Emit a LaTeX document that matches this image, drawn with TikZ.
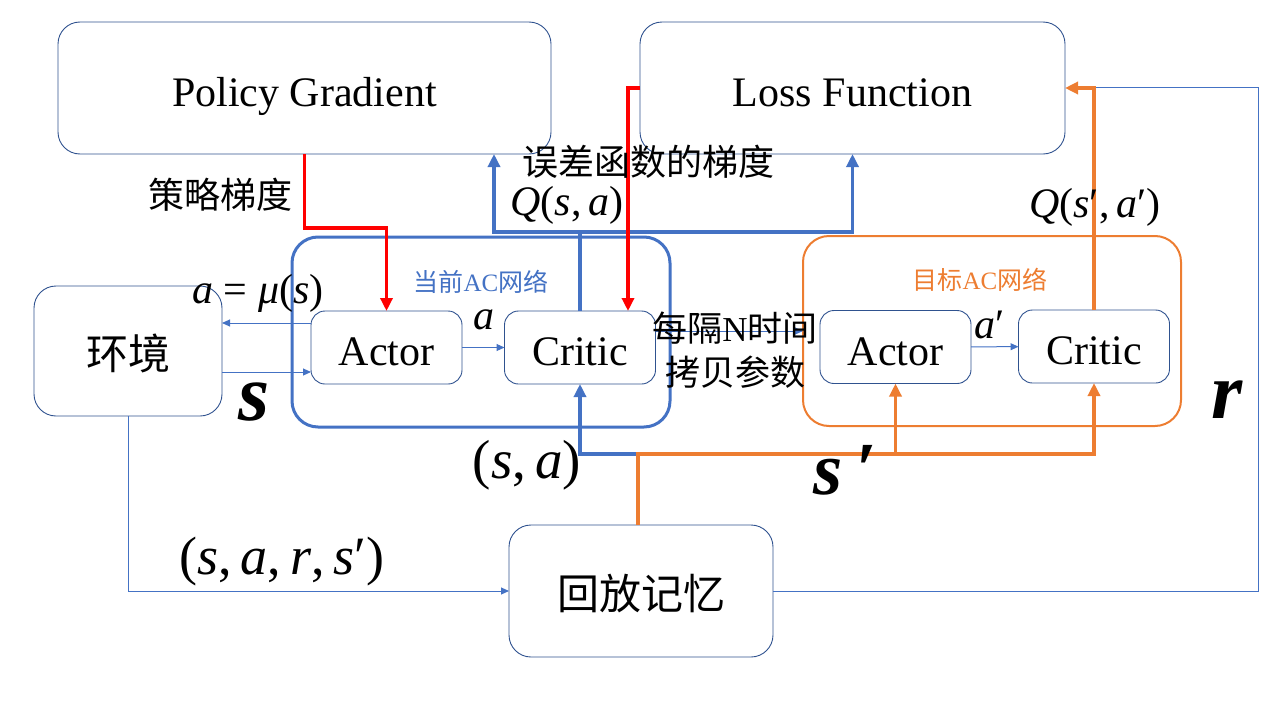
\documentclass[tikz,border=0pt]{standalone}
\usepackage{fontspec}
\setmainfont{Liberation Serif}
\newfontfamily\cjk{Noto Sans CJK SC}
\usetikzlibrary{positioning,calc,arrows.meta}
\definecolor{boxline}{HTML}{2F528F}
\definecolor{acblue}{HTML}{4472C4}
\definecolor{acorange}{HTML}{ED7D31}

\begin{document}
\begin{tikzpicture}
      [x=1pt,y=-1pt,
      every node/.style={inner sep=0pt,outer sep=0pt},
      box/.style={draw=boxline,line width=0.9pt,rounded corners=22pt,text height=36pt,text depth=0pt,font=\fontsize{42}{42}\selectfont},
      subbox/.style={box,rounded corners=14pt,minimum width=151pt,minimum height=73pt},
      netbox/.style={rounded corners=26pt,minimum width=378pt,minimum height=190pt},
      flow/.style={draw=acblue,line width=1pt,-{Triangle[length=8pt,width=7pt]}},
      feed/.style={line width=3.5pt,-{Triangle[length=13pt,width=12pt]}},
      lbl/.style={font=\fontsize{36}{36}\selectfont},
      mathlbl/.style={font=\fontsize{42}{42}\selectfont},
      big/.style={font=\fontsize{80}{80}\selectfont\bfseries\itshape}]
     \useasboundingbox (0,0) rectangle (1280,720);
     % boxes
     \node[box,minimum width=493pt,minimum height=132pt] (pg) at (304.5,88) {Policy Gradient};
     \node[box,minimum width=425pt,minimum height=132pt] (lf) at (852.5,88) {Loss Function};
     \node[box,minimum width=188pt,minimum height=130pt] (env) at (128,351) {\cjk 环境};
     \node[box,minimum width=264pt,minimum height=132pt] (mem) at (641,591) {\cjk 回放记忆};
     \node[netbox,draw=acblue,line width=3pt] (cur) at (481,332) {};
     \node[netbox,draw=acorange,line width=2pt] (tgt) at (992,331) {};
     \node[subbox] (act) at (386.5,347.5) {Actor};
     \node[subbox] (cri) at (580,347.5) {Critic};
     \node[subbox] (tact) at (895.5,347) {Actor};
     \node[subbox] (tcri) at (1094,346.5) {Critic};
     \node[font=\fontsize{25}{25}\selectfont,text=acblue] (lcur) at (481,282) {{\cjk 当前}AC{\cjk 网络}};
     \node[font=\fontsize{25}{25}\selectfont,text=acorange] (ltgt) at (980,280) {{\cjk 目标}AC{\cjk 网络}};
     % thin connectors
     \coordinate (a1) at ([yshift=24.5pt]act.west);
     \coordinate (s1) at ([yshift=-24.5pt]act.west);
     \coordinate (c1) at ([yshift=16.5pt]cri.east);
     \coordinate (rc) at (1258,87);
     \draw[flow] (a1) -- (a1 -| env.east);
     \draw[flow] (s1 -| env.east) -- (s1);
     \draw[flow] (act) -- (cri);
     \draw[flow] (tact) -- (tcri);
     \draw[flow] (c1) -- (c1 -| tgt.west);
     \draw[flow] (env.south) |- (mem.west);
     \draw[draw=acblue,line width=1pt] (mem.east) -| (rc) -- (rc -| tcri.north);
     % thick connectors
     \coordinate (qj) at (cri.north |- 0,232);
     \coordinate (pgin) at ([xshift=189.5pt]pg.south);
     \coordinate (bus) at (638,454);
     \draw[feed,draw=acblue] (cri.north) -- (qj) -| (pgin);
     \draw[feed,draw=acblue] (qj) -| (lf.south);
     \draw[feed,draw=acblue] (bus) -| (cri.south);
     \draw[feed,draw=acorange] (bus |- mem.north) -- (bus) -| (tcri.south);
     \draw[feed,draw=acorange] (bus -| tact.south) -- (tact.south);
     \draw[feed,draw=acorange] (tcri.north) |- (lf.east);
     \draw[feed,draw=red] (pg.south) |- ([yshift=83pt]act.north) -- (act.north);
     \draw[feed,draw=red] (lf.west) -| ([xshift=48pt]cri.north);
     % labels
     \node[lbl] (lpg) at (220,195) {\cjk 策略梯度};
     \node[lbl] (lerr) at (648,162) {\cjk 误差函数的梯度};
     \node[mathlbl] (lq) at (567,205) {\textit{Q}(\textit{s},\,\textit{a})};
     \node[mathlbl] (lq2) at (1095,207) {\textit{Q}(\textit{s}′,\,\textit{a}′)};
     \node[font=\fontsize{42}{42}\selectfont] (lmu) at (258,293) {\textit{a} = \textit{μ}(\textit{s})};
     \node[mathlbl] (la) at (484,320) {\textit{a}};
     \node[mathlbl] (la2) at (990,325) {\textit{a}′};
     \node[lbl,font=\fontsize{35}{44}\selectfont,align=center] (lcopy) at (735,350) {{\cjk 每隔}N{\cjk 时间}\\{\cjk 拷贝参数}};
     \node[big] (ls) at (254,402) {s};
     \node[big,font=\fontsize{75}{75}\selectfont\bfseries\itshape] (ls2) at (845,470) {s\,′};
     \node[big] (lr) at (1227,400) {r};
     \node[font=\fontsize{55}{55}\selectfont] (lsa) at (527,465) {(\textit{s},\,\textit{a})};
     \node[font=\fontsize{54}{54}\selectfont] (lsars) at (282,562) {(\textit{s},\,\textit{a},\,\textit{r},\,\textit{s}′)};
    \end{tikzpicture}
\end{document}
